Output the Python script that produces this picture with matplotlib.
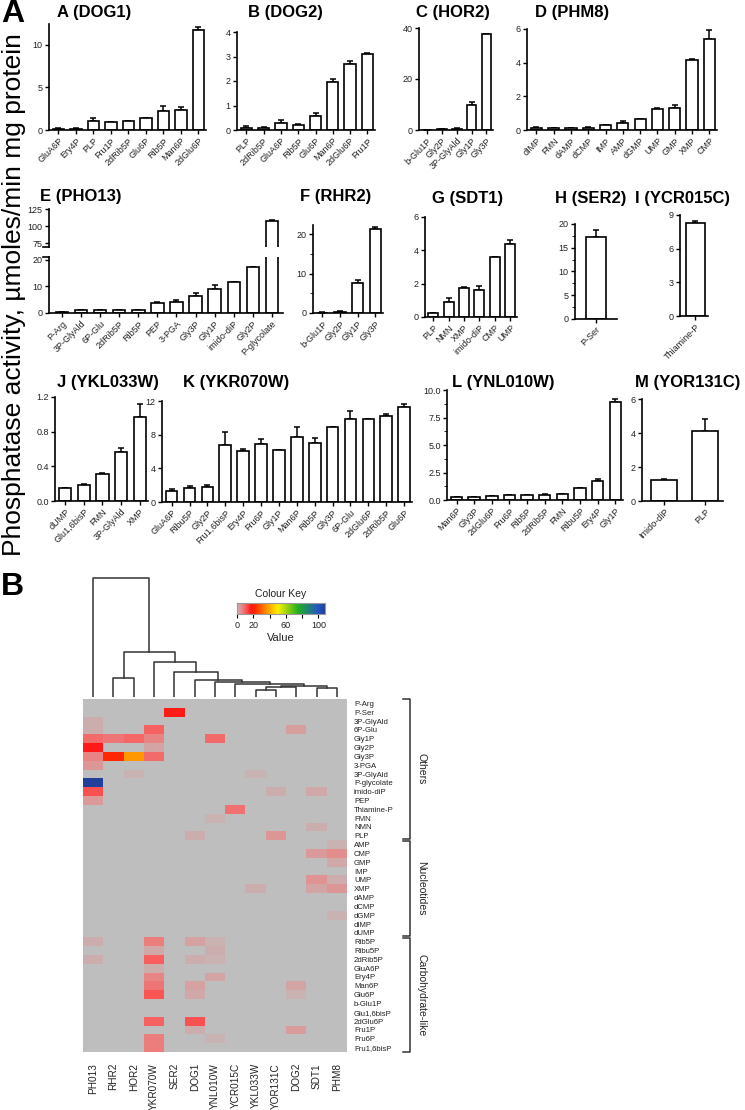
import numpy as np
import matplotlib
matplotlib.use("Agg")
import matplotlib.pyplot as plt
from matplotlib.colors import LinearSegmentedColormap, Normalize
from matplotlib.ticker import MultipleLocator

plt.rcParams['font.family'] = ['Liberation Sans', 'DejaVu Sans']

# ---------------------------------------------------------------- data
dog1_subs = ["GluA6P", "Ery4P", "PLP", "Fru1P", "2dRib5P", "Glu6P", "Rib5P", "Man6P", "2dGlu6P"]
dog1_vals = [0.15, 0.15, 1.05, 0.95, 1.0, 1.45, 2.2, 2.35, 11.7]
dog1_errs = [0.05, 0.05, 0.4, 0.0, 0.0, 0.0, 0.55, 0.35, 0.3]

dog2_subs = ["PLP", "2dRib5P", "GluA6P", "Rib5P", "Glu6P", "Man6P", "2dGlu6P", "Fru1P"]
dog2_vals = [0.1, 0.1, 0.27, 0.2, 0.58, 1.96, 2.7, 3.1]
dog2_errs = [0.07, 0.04, 0.13, 0.06, 0.12, 0.14, 0.1, 0.05]

hor2_subs = ["b-Glu1P", "Gly2P", "3P-GlyAld", "Gly1P", "Gly3P"]
hor2_vals = [0.1, 0.2, 0.5, 9.7, 37.5]
hor2_errs = [0.05, 0.1, 0.3, 1.2, 0.3]

phm8_subs = ["dIMP", "FMN", "dAMP", "dCMP", "IMP", "AMP", "dGMP", "UMP", "GMP", "XMP", "CMP"]
phm8_vals = [0.1, 0.12, 0.12, 0.13, 0.3, 0.43, 0.63, 1.22, 1.28, 4.14, 5.42]
phm8_errs = [0.05, 0.02, 0.02, 0.02, 0.02, 0.1, 0.05, 0.06, 0.22, 0.1, 0.53]

pho13_subs = ["P-Arg", "3P-GlyAld", "6P-Glu", "2dRib5P", "Rib5P", "PEP", "3-PGA", "Gly3P",
              "Gly1P", "imido-diP", "Gly2P", "P-glycolate"]
pho13_vals = [0.2, 1.0, 1.0, 1.0, 1.0, 3.75, 4.1, 6.25, 9.0, 11.5, 17.1, 108.0]
pho13_errs = [0.05, 0.2, 0.1, 0.1, 0.1, 0.3, 0.7, 1.25, 1.6, 0.1, 0.3, 0.5]

rhr2_subs = ["b-Glu1P", "Gly2P", "Gly1P", "Gly3P"]
rhr2_vals = [0.1, 0.3, 7.6, 21.3]
rhr2_errs = [0.05, 0.1, 0.7, 0.5]

sdt1_subs = ["PLP", "NMN", "XMP", "imido-diP", "CMP", "UMP"]
sdt1_vals = [0.24, 0.93, 1.73, 1.63, 3.58, 4.41]
sdt1_errs = [0.03, 0.2, 0.1, 0.26, 0.0, 0.2]

ser2_subs = ["P-Ser"]
ser2_vals = [17.3]
ser2_errs = [1.4]

ycr015c_subs = ["Thiamine-P"]
ycr015c_vals = [8.25]
ycr015c_errs = [0.24]

ykl033w_subs = ["dUMP", "Glu1,6bisP", "FMN", "3P-GlyAld", "XMP"]
ykl033w_vals = [0.146, 0.19, 0.31, 0.57, 0.97]
ykl033w_errs = [0.005, 0.01, 0.01, 0.04, 0.15]

ykr070w_subs = ["GluA6P", "Ribu5P", "Gly2P", "Fru1,6bisP", "Ery4P", "Fru6P", "Gly1P", "Man6P",
                "Rib5P", "Gly3P", "6P-Glu", "2dGlu6P", "2dRib5P", "Glu6P"]
ykr070w_vals = [1.26, 1.65, 1.77, 6.8, 6.06, 6.9, 6.14, 7.68, 6.97, 8.9, 9.88, 9.84, 10.2, 11.3]
ykr070w_errs = [0.3, 0.3, 0.25, 1.5, 0.28, 0.6, 0.05, 1.26, 0.6, 0.05, 0.9, 0.05, 0.3, 0.3]

ynl010w_subs = ["Man6P", "Gly3P", "2dGlu6P", "Fru6P", "Rib5P", "2dRib5P", "FMN", "Ribu5P", "Ery4P", "Gly1P"]
ynl010w_vals = [0.25, 0.25, 0.35, 0.45, 0.45, 0.5, 0.55, 1.06, 1.73, 8.88]
ynl010w_errs = [0.02, 0.02, 0.02, 0.02, 0.02, 0.02, 0.02, 0.05, 0.2, 0.27]

yor131c_subs = ["Imido-diP", "PLP"]
yor131c_vals = [1.22, 4.12]
yor131c_errs = [0.08, 0.69]

# heat map rows / columns
rows_others = ["P-Arg", "P-Ser", "3P-GlyAld", "6P-Glu", "Gly1P", "Gly2P", "Gly3P", "3-PGA",
               "3P-GlyAld", "P-glycolate", "imido-diP", "PEP", "Thiamine-P", "FMN", "NMN", "PLP"]
rows_nucleotides = ["AMP", "CMP", "GMP", "IMP", "UMP", "XMP", "dAMP", "dCMP", "dGMP", "dIMP", "dUMP"]
rows_carbo = ["Rib5P", "Ribu5P", "2dRib5P", "GluA6P", "Ery4P", "Man6P", "Glu6P", "b-Glu1P",
              "Glu1,6bisP", "2dGlu6P", "Fru1P", "Fru6P", "Fru1,6bisP"]
group_names = ["Others", "Nucleotides", "Carbohydrate-like"]
heat_cols = ["PH013", "RHR2", "HOR2", "YKR070W", "SER2", "DOG1", "YNL010W", "YCR015C",
             "YKL033W", "YOR131C", "DOG2", "SDT1", "PHM8"]
# cells placed on a row other than the first row of that name
heat_row_override = {("HOR2", "3P-GlyAld"): 8, ("YKL033W", "3P-GlyAld"): 8, ("DOG2", "2dGlu6P"): 3}
# column dendrogram: (left, right, height); ids >= 13 are earlier merges
dend_merges = [(8, 9, 7), (13, 10, 10), (11, 12, 9), (14, 15, 11), (7, 16, 13), (6, 17, 15),
               (5, 18, 17), (4, 19, 25), (3, 20, 35), (1, 2, 19), (22, 21, 45), (0, 23, 119)]

panels = [
    ("A (DOG1)", "DOG1", dog1_subs, dog1_vals, dog1_errs),
    ("B (DOG2)", "DOG2", dog2_subs, dog2_vals, dog2_errs),
    ("C (HOR2)", "HOR2", hor2_subs, hor2_vals, hor2_errs),
    ("D (PHM8)", "PHM8", phm8_subs, phm8_vals, phm8_errs),
    ("E (PHO13)", "PH013", pho13_subs, pho13_vals, pho13_errs),
    ("F (RHR2)", "RHR2", rhr2_subs, rhr2_vals, rhr2_errs),
    ("G (SDT1)", "SDT1", sdt1_subs, sdt1_vals, sdt1_errs),
    ("H (SER2)", "SER2", ser2_subs, ser2_vals, ser2_errs),
    ("I (YCR015C)", "YCR015C", ycr015c_subs, ycr015c_vals, ycr015c_errs),
    ("J (YKL033W)", "YKL033W", ykl033w_subs, ykl033w_vals, ykl033w_errs),
    ("K (YKR070W)", "YKR070W", ykr070w_subs, ykr070w_vals, ykr070w_errs),
    ("L (YNL010W)", "YNL010W", ynl010w_subs, ynl010w_vals, ynl010w_errs),
    ("M (YOR131C)", "YOR131C", yor131c_subs, yor131c_vals, yor131c_errs),
]

# ---------------------------------------------------------------- layout
W, H = 745, 1110
fig = plt.figure(figsize=(W / 100, H / 100), dpi=100)


def box(l, t, r, b):
    return [l / W, 1 - b / H, (r - l) / W, (b - t) / H]


# (left, top, right, bottom) px, ylim, yticks, fmt, title xy, xlim
layout = {
    "A (DOG1)": ((49, 24, 206, 130), (0, 12.4), [0, 5, 10], "%d", (57, 13), None),
    "B (DOG2)": ((237, 32, 375, 130), (0, 4), [0, 1, 2, 3, 4], "%d", (248, 13), None),
    "C (HOR2)": ((419, 28, 493, 130), (0, 40), [0, 20, 40], "%d", (416, 13), None),
    "D (PHM8)": ((527, 29, 717, 130), (0, 6), [0, 2, 4, 6], "%d", (535, 13), None),
    "E (PHO13)": ((49, 257, 283, 313), (0, 21), [0, 10, 20], "%d", (40, 197), (-0.68, 11.58)),
    "F (RHR2)": ((313, 225, 383, 313), (0, 22.3), [0, 10, 20], "%d", (300, 197), None),
    "G (SDT1)": ((425, 217, 517, 317), (0, 6), [0, 2, 4, 6], "%d", (432, 199), None),
    "H (SER2)": ((575, 224, 617, 319), (0, 20), [0, 5, 10, 15, 20], "%d", (555, 199), (-0.7, 0.7)),
    "I (YCR015C)": ((680, 215, 708, 316), (0, 9), [0, 3, 6, 9], "%d", (635, 199), None),
    "J (YKL033W)": ((55, 397, 148, 501), (0, 1.2), [0, 0.4, 0.8, 1.2], "%.1f", (57, 382), None),
    "K (YKR070W)": ((162, 401, 412, 502), (0, 12), [0, 4, 8, 12], "%d", (183, 382), None),
    "L (YNL010W)": ((447, 390, 623, 500), (0, 10), [0, 2.5, 5, 7.5, 10], "%.1f", (452, 383), None),
    "M (YOR131C)": ((642, 399, 723, 501), (0, 6), [0, 2, 4, 6], "%d", (635, 383), None),
}

LW = 1.2
TXT = '#222222'


def style_axis(ax, hide_bottom=False):
    ax.spines['top'].set_visible(False)
    ax.spines['right'].set_visible(False)
    for s in ('left', 'bottom'):
        ax.spines[s].set_linewidth(LW)
    ax.tick_params(direction='out', length=3, width=1, labelsize=6.5, colors='black',
                   labelcolor=TXT, pad=1.5)
    if hide_bottom:
        ax.spines['bottom'].set_visible(False)
        ax.tick_params(axis='x', bottom=False, labelbottom=False)


def draw_bars(ax, vals, errs):
    x = np.arange(len(vals))
    ax.bar(x, vals, width=0.65, color='white', edgecolor='black', linewidth=LW, zorder=2)
    ax.errorbar(x, vals, yerr=[np.zeros(len(errs)), errs], fmt='none', ecolor='black',
                elinewidth=1.1, capsize=2.5, capthick=1.1, zorder=1)
    return x


for title, col, subs, vals, errs in panels:
    (l, t, r, b), ylim, yt, fmt, (tx, ty), xlim = layout[title]
    n = len(subs)
    if xlim is None:
        xlim = (-0.54, n - 1 + 0.44)
    ax = fig.add_axes(box(l, t, r, b))
    x = draw_bars(ax, vals, errs)
    ax.set_xlim(*xlim)
    ax.set_ylim(*ylim)
    ax.set_yticks(yt)
    ax.set_yticklabels([fmt % v for v in yt])
    ax.set_xticks(x)
    ax.set_xticklabels(subs, rotation=45, ha='right', rotation_mode='anchor', fontsize=6.5)
    style_axis(ax)
    if title == "L (YNL010W)":
        ax.yaxis.set_minor_locator(MultipleLocator(1.25))
        ax.tick_params(axis='y', which='minor', length=2)
    if title == "H (SER2)":
        ax.yaxis.set_minor_locator(MultipleLocator(2.5))
        ax.tick_params(axis='y', which='minor', length=2)
    if title == "F (RHR2)":
        ax.yaxis.set_minor_locator(MultipleLocator(5))
        ax.tick_params(axis='y', which='minor', length=2)
    fig.text(tx / W, 1 - ty / H, title, fontsize=12, fontweight='bold', ha='left', va='center')
    if title == "E (PHO13)":
        axu = fig.add_axes(box(l, 209, r, 246.5))
        draw_bars(axu, vals, errs)
        axu.set_xlim(*xlim)
        axu.set_ylim(70, 125)
        axu.set_yticks([75, 100, 125])
        style_axis(axu, hide_bottom=True)
        axu.set_xticks([])
        # break marks
        axu.plot([-0.025, 0.0], [0, 0], transform=axu.transAxes, color='black', lw=1.2, clip_on=False)
        ax.plot([-0.025, 0.0], [1, 1], transform=ax.transAxes, color='black', lw=1.2, clip_on=False)

fig.text(14 / W, 1 - 295 / H, "Phosphatase activity, \u00b5moles/min mg protein", rotation=90,
         fontsize=19, ha='center', va='center')
fig.text(1 / W, 1 - 14 / H, "A", fontsize=23, fontweight='bold', ha='left', va='center')
fig.text(1 / W, 1 - 587 / H, "B", fontsize=23, fontweight='bold', ha='left', va='center')

# ---------------------------------------------------------------- heat map
row_labels = rows_others + rows_nucleotides + rows_carbo
nrows, ncols = len(row_labels), len(heat_cols)
M = np.zeros((nrows, ncols))
for title, col, subs, vals, errs in panels:
    j = heat_cols.index(col)
    for s, v in zip(subs, vals):
        if (col, s) in heat_row_override:
            i = heat_row_override[(col, s)]
        else:
            i = [r.lower() for r in row_labels].index(s.lower())
        M[i, j] = v

vmax = 108.0
stops = [(0, '#BEBEBE'), (0.1, '#C6B6B6'), (1.5, '#D2A6A6'), (5, '#E48E8E'), (10, '#F86060'),
         (17, '#FF1A1A'), (22, '#FF2A00'), (37.5, '#FF9A00'), (50, '#FFF000'), (75, '#22B022'),
         (100, '#2456C4'), (108, '#22409A')]
cmap = LinearSegmentedColormap.from_list('key', [(v / vmax, c) for v, c in stops])
cmap.set_bad('#BEBEBE')
norm = Normalize(0, vmax)

hax = fig.add_axes(box(83, 699, 347, 1052))
hax.imshow(np.ma.masked_equal(M, 0), cmap=cmap, norm=norm, aspect='auto', interpolation='nearest',
           extent=(-0.5, ncols - 0.5, nrows - 0.5, -0.5))
for s in hax.spines.values():
    s.set_visible(False)
hax.yaxis.tick_right()
hax.set_yticks(np.arange(nrows))
hax.set_yticklabels(row_labels, fontsize=5.6, color=TXT)
hax.set_xticks(np.arange(ncols))
hax.set_xticklabels(heat_cols, rotation=90, fontsize=7.2, va='top', ha='center', color=TXT)
hax.tick_params(axis='y', length=0, pad=5)
hax.tick_params(axis='x', length=0, pad=8)

# brackets
px_per_col = (347 - 83) / ncols
xb = (410 - 83) / px_per_col - 0.5
xt = (403 - 83) / px_per_col - 0.5
xtext = (421 - 83) / px_per_col - 0.5
sizes = [len(rows_others), len(rows_nucleotides), len(rows_carbo)]
start = -0.5
for k, (name, sz) in enumerate(zip(group_names, sizes)):
    top = start + (0.12 if k > 0 else 0)
    bot = start + sz - (0.12 if k < 2 else 0)
    hax.plot([xt, xb, xb, xt], [top, top, bot, bot], color='#333333', lw=1.1, clip_on=False,
             scalex=False, scaley=False)
    hax.text(xtext, (top + bot) / 2, name, rotation=-90, ha='center', va='center', fontsize=7.5,
             color=TXT)
    start += sz
hax.set_xlim(-0.5, ncols - 0.5)
hax.set_ylim(nrows - 0.5, -0.5)

# dendrogram
dax = fig.add_axes(box(83, 576, 347, 697))
pos = {i: float(i) for i in range(ncols)}
hgt = {i: 0.0 for i in range(ncols)}
for k, (a, b, h) in enumerate(dend_merges):
    nid = ncols + k
    dax.plot([pos[a], pos[a], pos[b], pos[b]], [hgt[a], h, h, hgt[b]], color='#333333', lw=1.1)
    pos[nid] = (pos[a] + pos[b]) / 2
    hgt[nid] = h
dax.set_xlim(-0.5, ncols - 0.5)
dax.set_ylim(0, 121)
dax.axis('off')

# colour key
kax = fig.add_axes(box(237, 603, 325, 614))
kax.imshow(np.linspace(0, vmax, 300)[None, :], cmap=cmap, norm=norm, aspect='auto',
           extent=(0, vmax, 0, 1))
kax.set_yticks([])
kt = [0, 20, 40, 60, 80, 100]
kax.set_xticks(kt)
kax.set_xticklabels(['0', '20', '', '60', '', '100'], fontsize=6.5, color=TXT)
kax.tick_params(axis='x', length=3, width=0.8, pad=2)
for s in kax.spines.values():
    s.set_color('#999999')
    s.set_linewidth(0.8)
kax.set_title("Colour Key", fontsize=7.5, pad=4, color=TXT)
kax.set_xlabel("Value", fontsize=8, labelpad=2, color=TXT)

fig.savefig("out.png", dpi=100)
